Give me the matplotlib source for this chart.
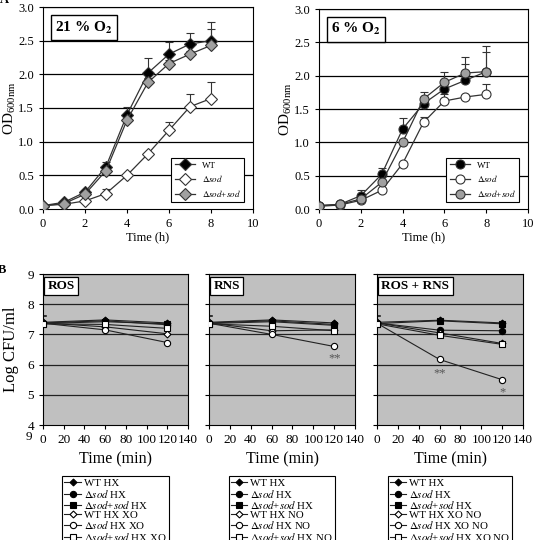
import numpy as np
import matplotlib
matplotlib.use('Agg')
import matplotlib.pyplot as plt

plt.rcParams['font.family'] = ['Liberation Serif', 'DejaVu Serif']
plt.rcParams['mathtext.fontset'] = 'stix'

# Growth curves (panel A)
hours = [0, 1, 2, 3, 4, 5, 6, 7, 8]

o21_wt = [0.05, 0.10, 0.25, 0.63, 1.40, 2.02, 2.30, 2.45, 2.50]
o21_wt_err = [0.0, 0.0, 0.03, 0.07, 0.12, 0.23, 0.18, 0.17, 0.28]
o21_sod = [0.05, 0.07, 0.12, 0.23, 0.50, 0.82, 1.17, 1.52, 1.64]
o21_sod_err = [0.0, 0.0, 0.0, 0.07, 0.0, 0.0, 0.12, 0.19, 0.24]
o21_comp = [0.05, 0.08, 0.22, 0.57, 1.32, 1.88, 2.16, 2.30, 2.43]
o21_comp_err = [0.0, 0.0, 0.03, 0.05, 0.08, 0.06, 0.05, 0.05, 0.24]

o6_wt = [0.05, 0.07, 0.20, 0.52, 1.20, 1.58, 1.80, 1.93, 2.06]
o6_wt_err = [0.0, 0.0, 0.08, 0.10, 0.17, 0.05, 0.08, 0.25, 0.29]
o6_sod = [0.04, 0.06, 0.13, 0.28, 0.68, 1.30, 1.62, 1.68, 1.72]
o6_sod_err = [0.0, 0.0, 0.0, 0.0, 0.0, 0.08, 0.10, 0.0, 0.16]
o6_comp = [0.05, 0.07, 0.15, 0.40, 1.00, 1.65, 1.90, 2.04, 2.06]
o6_comp_err = [0.0, 0.0, 0.0, 0.0, 0.0, 0.10, 0.15, 0.24, 0.39]

# Survival (panel B)
minutes = [0, 60, 120]

ros = {
    'WT HX': [7.40, 7.48, 7.38],
    'sod HX': [7.38, 7.45, 7.32],
    'comp HX': [7.36, 7.42, 7.35],
    'WT treat': [7.38, 7.25, 7.02],
    'sod treat': [7.37, 7.15, 6.73],
    'comp treat': [7.35, 7.33, 7.20],
}
rns = {
    'WT HX': [7.40, 7.48, 7.38],
    'sod HX': [7.38, 7.45, 7.33],
    'comp HX': [7.36, 7.42, 7.30],
    'WT treat': [7.38, 7.12, 7.15],
    'sod treat': [7.37, 7.00, 6.60],
    'comp treat': [7.35, 7.27, 7.12],
}
both = {
    'WT HX': [7.40, 7.47, 7.38],
    'sod HX': [7.38, 7.14, 7.12],
    'comp HX': [7.36, 7.45, 7.35],
    'WT treat': [7.38, 7.05, 6.70],
    'sod treat': [7.37, 6.17, 5.50],
    'comp treat': [7.35, 6.97, 6.67],
}
b_err0 = 0.25

ros_labels = ['WT HX', r'$\Delta\mathit{sod}$ HX', r'$\Delta\mathit{sod}$+$\mathit{sod}$ HX',
              'WT HX XO', r'$\Delta\mathit{sod}$ HX XO', r'$\Delta\mathit{sod}$+$\mathit{sod}$ HX XO']
rns_labels = ['WT HX', r'$\Delta\mathit{sod}$ HX', r'$\Delta\mathit{sod}$+$\mathit{sod}$ HX',
              'WT HX NO', r'$\Delta\mathit{sod}$ HX NO', r'$\Delta\mathit{sod}$+$\mathit{sod}$ HX NO']
both_labels = ['WT HX', r'$\Delta\mathit{sod}$ HX', r'$\Delta\mathit{sod}$+$\mathit{sod}$ HX',
               'WT HX XO NO', r'$\Delta\mathit{sod}$ HX XO NO', r'$\Delta\mathit{sod}$+$\mathit{sod}$ HX XO NO']

W, H = 533, 540


def px_axes(fig, x0, y0, x1, y1):
    # pixel box (top-left origin) -> figure axes
    return fig.add_axes([x0 / W, 1 - y1 / H, (x1 - x0) / W, (y1 - y0) / H])


fig = plt.figure(figsize=(W / 100, H / 100), dpi=100)

#############
# Panel A  #
#############

def growth_panel(ax, series, marker, title):
    ax.set_xlim(0, 10)
    ax.set_ylim(0, 3.0)
    ax.set_yticks(np.arange(0, 3.01, 0.5))
    ax.set_yticklabels(['%.1f' % v for v in np.arange(0, 3.01, 0.5)])
    ax.set_xticks([0, 2, 4, 6, 8, 10])
    for y in np.arange(0.5, 3.01, 0.5):
        ax.axhline(y, color='black', lw=0.9, zorder=1)
    for vals, err, face, lab in series:
        ax.errorbar(hours, vals, yerr=[np.zeros(len(err)), err], fmt='none',
                    ecolor='#333333', elinewidth=0.8, capsize=3, capthick=0.8, zorder=2)
        ax.plot(hours, vals, color='#333333', lw=0.9, marker=marker, ms=6.5,
                mfc=face, mec='#333333', mew=0.8, label=lab, zorder=3)
    ax.tick_params(labelsize=9, direction='out', length=3, width=0.8)
    for s in ax.spines.values():
        s.set_linewidth(0.8)
    ax.set_xlabel('Time (h)', fontsize=9, labelpad=1)
    ax.set_ylabel(r'OD$_{\mathregular{600nm}}$', fontsize=11, va='center')
    # label centre sits ~33 px left of the axis
    ax.yaxis.set_label_coords(-33 / 210, 0.5)
    ax.text(0.058, 0.898, title, transform=ax.transAxes, fontsize=11, fontweight='bold',
            va='center', ha='left', zorder=5,
            bbox=dict(boxstyle='square,pad=0.3', fc='white', ec='black', lw=1))
    leg = ax.legend(loc='lower right', bbox_to_anchor=(0.98, 0.01), fontsize=6.5,
                    frameon=True, fancybox=False, edgecolor='black', framealpha=1,
                    handlelength=2.2, labelspacing=0.4, borderpad=0.4, handletextpad=0.8)
    leg.get_frame().set_linewidth(0.8)


ax1 = px_axes(fig, 43, 7, 253, 209)
growth_panel(ax1, [(o21_wt, o21_wt_err, 'black', 'WT'),
                   (o21_sod, o21_sod_err, 'white', r'$\Delta\mathit{sod}$'),
                   (o21_comp, o21_comp_err, '#a0a0a0', r'$\Delta\mathit{sod}$+$\mathit{sod}$')],
             'D', r'21 % O$_\mathbf{2}$')

ax2 = px_axes(fig, 319, 9, 528, 209)
growth_panel(ax2, [(o6_wt, o6_wt_err, 'black', 'WT'),
                   (o6_sod, o6_sod_err, 'white', r'$\Delta\mathit{sod}$'),
                   (o6_comp, o6_comp_err, '#a0a0a0', r'$\Delta\mathit{sod}$+$\mathit{sod}$')],
             'o', r'6 % O$_\mathbf{2}$')

#############
# Panel B  #
#############

styles = [('D', 'black', 3.5), ('o', 'black', 4.5), ('s', 'black', 5),
          ('D', 'white', 3.5), ('o', 'white', 4.5), ('s', 'white', 5)]
keys = ['WT HX', 'sod HX', 'comp HX', 'WT treat', 'sod treat', 'comp treat']


def survival_panel(ax, data, labels, title, first):
    ax.set_facecolor('#c0c0c0')
    ax.set_xlim(0, 140)
    ax.set_ylim(4, 9)
    ax.set_xticks(range(0, 141, 20))
    ax.set_yticks(range(4, 10))
    for y in range(5, 10):
        ax.axhline(y, color='#222222', lw=0.9, zorder=1)
    for k, (m, face, ms), lab in zip(keys, styles, labels):
        ax.errorbar([0], [data[k][0]], yerr=[[0], [b_err0]], fmt='none', ecolor='#333333',
                    elinewidth=0.6, capsize=2, capthick=0.6, zorder=2)
        ax.plot(minutes, data[k], color='#222222', lw=0.8, marker=m, ms=ms, mfc=face,
                mec='black', mew=0.8, label=lab, zorder=3)
    ax.tick_params(labelsize=9.5, direction='out', length=3, width=0.8)
    if first:
        ax.set_ylabel('Log CFU/ml', fontsize=12, labelpad=6)
    else:
        ax.set_yticklabels([])
    for s in ax.spines.values():
        s.set_linewidth(0.8)
    ax.set_xlabel('Time (min)', fontsize=11.5, labelpad=4)
    ax.text(0.03, 0.92, title, transform=ax.transAxes, fontsize=9.5, fontweight='bold',
            va='center', ha='left', zorder=5,
            bbox=dict(boxstyle='square,pad=0.25', fc='white', ec='black', lw=0.9))
    return ax


def survival_legend(ax, cx):
    leg = ax.legend(loc='upper center', bbox_to_anchor=(cx, -0.305), fontsize=7.8,
                    frameon=True, fancybox=False, edgecolor='black', framealpha=1,
                    handlelength=1.5, labelspacing=-0.06, borderpad=0.2, handletextpad=0.3)
    leg.get_frame().set_linewidth(0.8)


ax3 = px_axes(fig, 43, 274, 188, 425)
survival_panel(ax3, ros, ros_labels, 'ROS', True)
survival_legend(ax3, 0.5)

ax4 = px_axes(fig, 209, 274, 355, 425)
survival_panel(ax4, rns, rns_labels, 'RNS', False)
ax4.text(120, 6.2, '**', ha='center', va='center', fontsize=9, color='#555555')
survival_legend(ax4, 0.5)

ax5 = px_axes(fig, 377, 274, 523, 425)
survival_panel(ax5, both, both_labels, 'ROS + RNS', False)
ax5.text(60, 5.72, '**', ha='center', va='center', fontsize=9, color='#555555')
ax5.text(120, 5.08, '*', ha='center', va='center', fontsize=9, color='#555555')
survival_legend(ax5, 0.5)

# Panel letters and stray tick label from the original scan
fig.text(0.0, 1.0, 'A', fontsize=9, fontweight='bold', ha='left', va='center')
fig.text(-0.004, 1 - 270 / H, 'B', fontsize=9, fontweight='bold', ha='left', va='center')
fig.text(29 / W, 1 - 437 / H, '9', fontsize=9.5, ha='center', va='center')

fig.savefig('out.png', dpi=100)
